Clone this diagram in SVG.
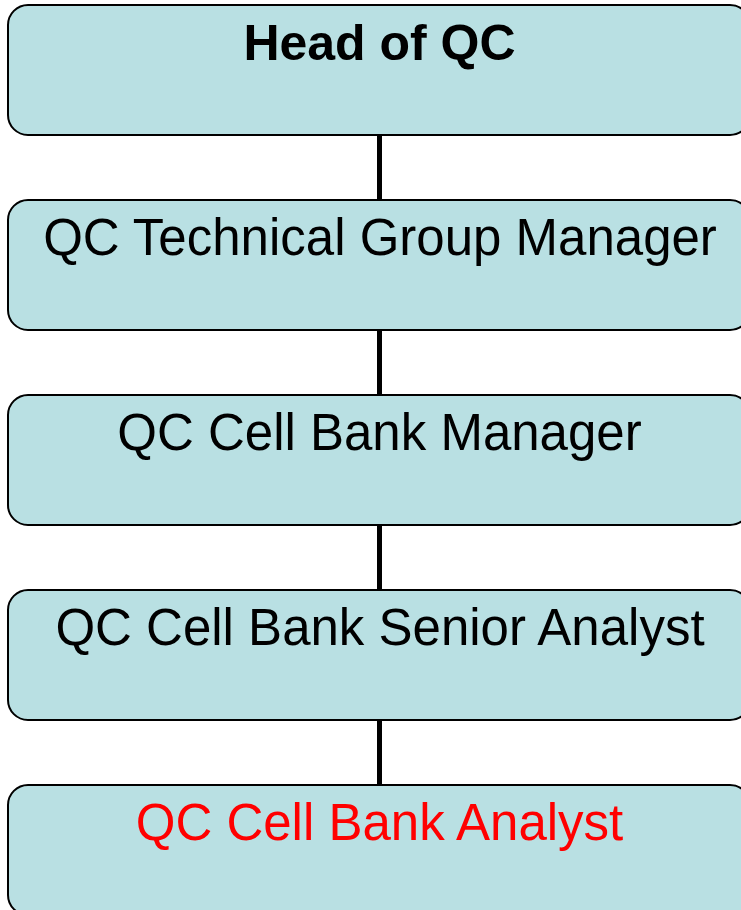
<svg xmlns="http://www.w3.org/2000/svg" width="741" height="910" viewBox="0 0 741 910">
<style>
.box{fill:#B9E0E3;stroke:#000;stroke-width:2}
.t{font-family:"Liberation Sans",Arial,sans-serif;font-size:51px;text-anchor:middle;fill:#000}
.b{font-weight:bold;font-size:50px}
.red{fill:#FF0000}
.c{stroke:#000;stroke-width:5}
</style>
<rect width="741" height="910" fill="#fff"/>
<g id="connectors">
<line class="c" x1="379.5" y1="135" x2="379.5" y2="200"/>
<line class="c" x1="379.5" y1="330" x2="379.5" y2="395"/>
<line class="c" x1="379.5" y1="525" x2="379.5" y2="590"/>
<line class="c" x1="379.5" y1="720" x2="379.5" y2="785"/>
</g>
<g id="head">
<rect class="box" x="8" y="5" width="742" height="130" rx="20"/>
<text class="t b" x="379.5" y="60">Head of QC</text>
</g>
<g id="tech">
<rect class="box" x="8" y="200" width="742" height="130" rx="20"/>
<text class="t" x="380" y="255">QC Technical Group Manager</text>
</g>
<g id="cbmgr">
<rect class="box" x="8" y="395" width="742" height="130" rx="20"/>
<text class="t" x="379.5" y="450">QC Cell Bank Manager</text>
</g>
<g id="senior">
<rect class="box" x="8" y="590" width="742" height="130" rx="20"/>
<text class="t" x="380" y="645">QC Cell Bank Senior Analyst</text>
</g>
<g id="analyst">
<rect class="box" x="8" y="785" width="742" height="130" rx="20"/>
<text class="t red" x="379.5" y="840">QC Cell Bank Analyst</text>
</g>
</svg>
